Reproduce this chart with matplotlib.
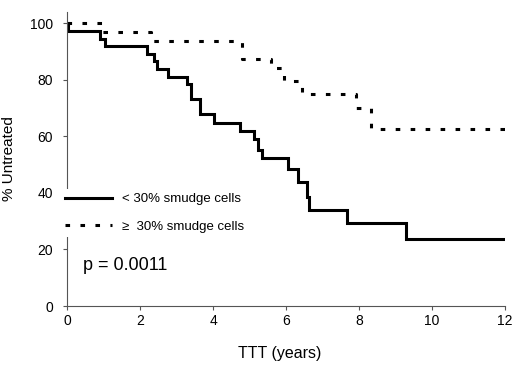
import matplotlib
matplotlib.use("Agg")
import matplotlib.pyplot as plt

plt.rcParams['font.family'] = ['Liberation Sans', 'DejaVu Sans']

# Kaplan-Meier style step data (time in years, % untreated)
low_t = [0, 0.03, 0.9, 1.04, 2.18, 2.37, 2.46, 2.78, 3.3, 3.4, 3.64, 4.03, 4.74,
         5.12, 5.22, 5.33, 6.05, 6.34, 6.57, 6.62, 7.67, 9.28, 12]
low_s = [100, 97.3, 94.6, 91.9, 89.2, 86.5, 83.8, 81.1, 78.4, 73.2, 67.8, 64.9, 62.0,
         58.9, 55.2, 52.2, 48.4, 43.8, 38.7, 33.9, 29.4, 23.6, 23.6]

high_t = [0, 0.95, 2.3, 4.8, 5.58, 5.95, 6.45, 7.92, 8.33, 12]
high_s = [100, 96.9, 93.8, 87.5, 84.2, 79.5, 75.0, 70.0, 62.5, 62.5]

labels = ["< 30% smudge cells", "\u2265  30% smudge cells"]
x_ticks = [0, 2, 4, 6, 8, 10, 12]
y_ticks = [0, 20, 40, 60, 80, 100]
p_text = "p = 0.0011"

fig = plt.figure(figsize=(5.2, 3.69), dpi=100)
ax = fig.add_axes([67/520, 1-306/369, (505-67)/520, (306-12)/369])

l1, = ax.step(low_t, low_s, where='post', color='black', lw=2.2, solid_joinstyle='miter')
l2, = ax.step(high_t, high_s, where='post', color='black', lw=2.2,
              linestyle=(0, (1.5, 3.4)))

ax.set_xlim(0, 12)
ax.set_ylim(0, 104)
ax.set_xticks(x_ticks)
ax.set_yticks(y_ticks)
for s in ['top', 'right']:
    ax.spines[s].set_visible(False)
for s in ['left', 'bottom']:
    ax.spines[s].set_color('#555555')
    ax.spines[s].set_linewidth(0.8)
ax.tick_params(direction='out', length=3, width=0.8, color='#555555',
               labelsize=10, pad=3)
ax.tick_params(axis='y', pad=7)

ax.set_xlabel("TTT (years)", fontsize=11.5, labelpad=13)
ax.xaxis.set_label_coords(0.486, -0.135)
ax.set_ylabel("% Untreated", fontsize=11, labelpad=10)

ax.text(0.44, 14.5, p_text, fontsize=13, va='center', ha='left')

leg = ax.legend([l1, l2], labels, loc='upper left',
                bbox_to_anchor=(61/520, 1-189/369), bbox_transform=fig.transFigure,
                frameon=True, framealpha=1, edgecolor='white', facecolor='white',
                fancybox=False, fontsize=9.5, handlelength=3.6, handletextpad=0.75,
                borderpad=0.3, labelspacing=1.15, borderaxespad=0)
leg.get_frame().set_linewidth(0)

fig.savefig("out.png", dpi=100)
